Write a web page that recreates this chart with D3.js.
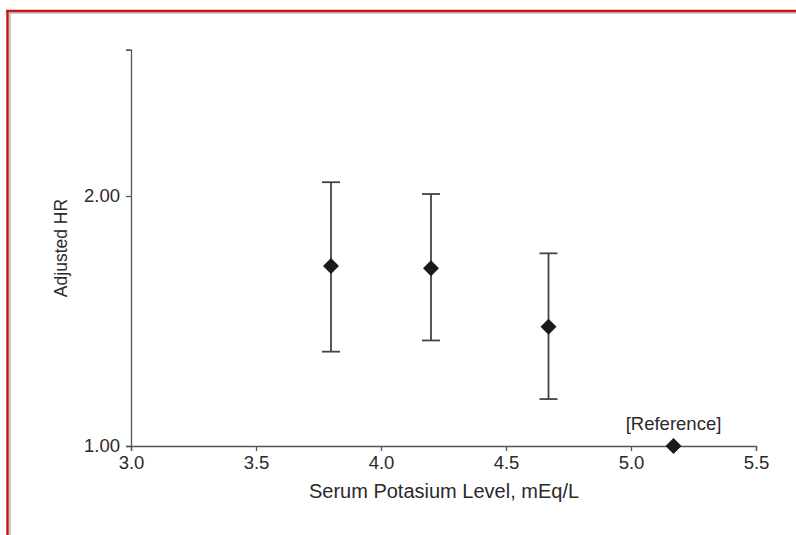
<!DOCTYPE html>
<html><head><meta charset="utf-8">
<script src="https://cdn.jsdelivr.net/npm/d3@7/dist/d3.min.js"></script>
<style>
html,body{margin:0;padding:0;background:#fff;}
svg{display:block;}
text{font-family:"Liberation Sans",Arial,sans-serif;fill:#2a2a2a;}
</style></head>
<body>
<script>
const potassium = [3.8, 4.2, 4.67, 5.17];
const hr = [1.647, 1.637, 1.392, 1.00];
const ciLow = [1.299, 1.340, 1.139, null];
const ciHigh = [2.078, 2.011, 1.706, null];
const pointLabels = ["", "", "", "[Reference]"];
const xTicks = [3.0, 3.5, 4.0, 4.5, 5.0, 5.5];
const yTicks = [1, 2, 3];
const yTickLabels = ["1.00", "2.00", ""];

const W = 796, H = 535;
const FONT = '"Liberation Sans",Arial,sans-serif';
const svg = d3.select("body").append("svg").attr("width", W).attr("height", H);

// frame
svg.append("line").attr("x1",9.5).attr("x2",W).attr("y1",13).attr("y2",13).attr("stroke","#bbb").attr("stroke-width",1.5);
svg.append("line").attr("x1",10).attr("x2",10).attr("y1",13).attr("y2",H).attr("stroke","#bbb").attr("stroke-width",1.5);
svg.append("line").attr("x1",6).attr("x2",W).attr("y1",11).attr("y2",11).attr("stroke","#c8161d").attr("stroke-width",2.5);
svg.append("line").attr("x1",7.5).attr("x2",7.5).attr("y1",10).attr("y2",H).attr("stroke","#c8161d").attr("stroke-width",2.5);

const x = d3.scaleLinear().domain([3.0, 5.5]).range([131, 756]);
const y = d3.scaleLog().base(2).domain([1, 3]).range([446, 446 - 250*Math.log2(3)]);

const axisColor = "#555";
const xAxis = svg.append("g").attr("transform","translate(0,446)")
  .call(d3.axisBottom(x).tickValues(xTicks).tickFormat(d3.format(".1f")).tickSizeOuter(0).tickSize(5).tickPadding(5));
const yAxis = svg.append("g").attr("transform","translate(131,0)")
  .call(d3.axisLeft(y).tickValues(yTicks).tickFormat((d,i)=>yTickLabels[i]).tickSizeOuter(0).tickSize(5).tickPadding(6));
[xAxis,yAxis].forEach(g=>{
  g.selectAll("path,line").attr("stroke",axisColor).attr("stroke-width",1.3);
  g.selectAll("text").attr("font-size",18.5).attr("fill","#2a2a2a").style("font-family",FONT);
});

svg.append("text").attr("x",444).attr("y",498).attr("text-anchor","middle").attr("font-size",20)
  .text("Serum Potasium Level, mEq/L");
svg.append("text").attr("transform","translate(67,248) rotate(-90)").attr("text-anchor","middle").attr("font-size",17.5)
  .text("Adjusted HR");

const data = potassium.map((k,i)=>({k, hr:hr[i], lo:ciLow[i], hi:ciHigh[i], label:pointLabels[i]}));
const bars = data.filter(d=>d.lo!==null);
const g = svg.append("g");
g.selectAll("line.ci").data(bars).join("line").attr("class","ci")
  .attr("x1",d=>x(d.k)).attr("x2",d=>x(d.k)).attr("y1",d=>y(d.lo)).attr("y2",d=>y(d.hi))
  .attr("stroke","#444").attr("stroke-width",1.8);
g.selectAll("line.capHi").data(bars).join("line").attr("class","capHi")
  .attr("x1",d=>x(d.k)-9).attr("x2",d=>x(d.k)+9).attr("y1",d=>y(d.hi)).attr("y2",d=>y(d.hi))
  .attr("stroke","#444").attr("stroke-width",1.8);
g.selectAll("line.capLo").data(bars).join("line").attr("class","capLo")
  .attr("x1",d=>x(d.k)-9).attr("x2",d=>x(d.k)+9).attr("y1",d=>y(d.lo)).attr("y2",d=>y(d.lo))
  .attr("stroke","#444").attr("stroke-width",1.8);
g.selectAll("path.pt").data(data).join("path").attr("class","pt")
  .attr("transform",d=>`translate(${x(d.k)},${y(d.hr)})`)
  .attr("d","M0,-8L8,0L0,8L-8,0Z").attr("fill","#1a1a1a");
g.selectAll("text.lbl").data(data.filter(d=>d.label)).join("text").attr("class","lbl")
  .attr("x",d=>x(d.k)).attr("y",d=>y(d.hr)-16).attr("text-anchor","middle").attr("font-size",18.5)
  .text(d=>d.label);
</script>
</body></html>
